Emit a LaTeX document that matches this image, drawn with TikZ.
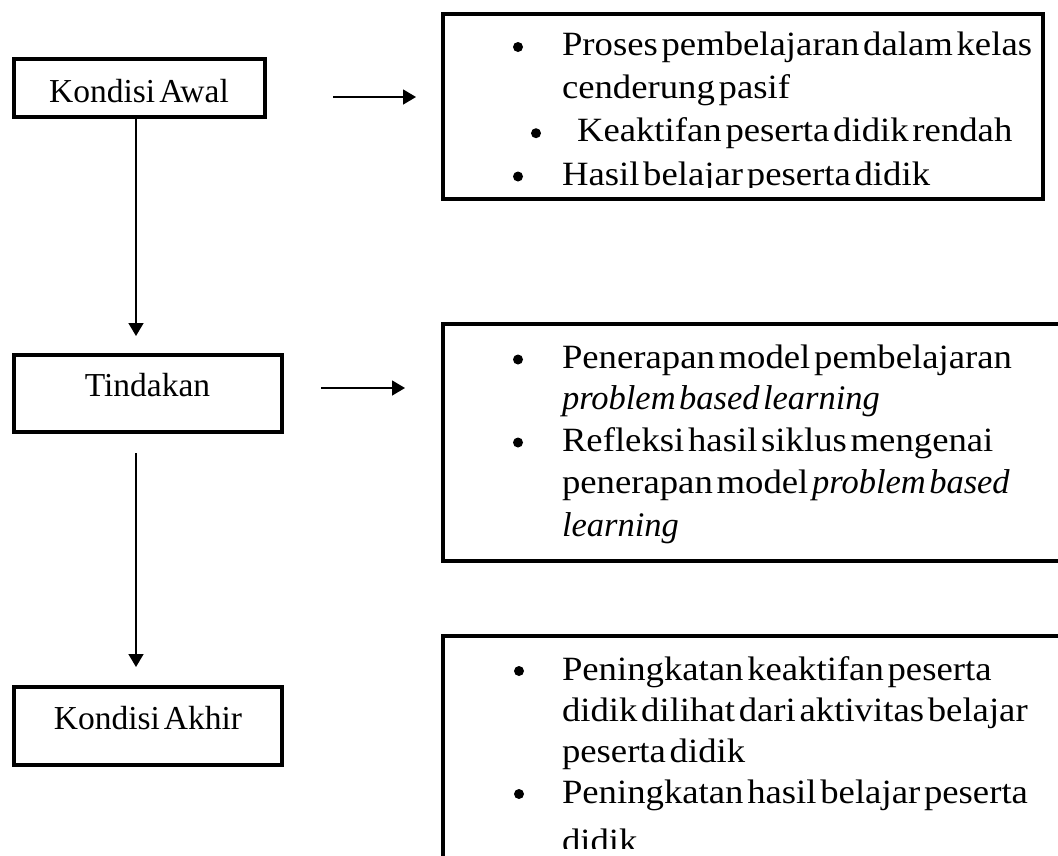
\documentclass[tikz,border=0pt]{standalone}
\usepackage{fontspec}
\setmainfont{Liberation Serif}
\newfontfamily\widefont{Liberation Serif}[FakeStretch=1.08]
\usetikzlibrary{arrows.meta}
\newcommand\leftfont{\fontsize{33.5}{40}\selectfont\spaceskip=0.12em\relax\xspaceskip=0.12em\relax}
\newcommand\rightfont{\widefont\fontsize{34}{40}\selectfont\spaceskip=0.11em\relax\xspaceskip=0.11em\relax}
\newcommand\emfont{\normalfont\fontsize{34.5}{40}\selectfont\itshape\spaceskip=0.1em\relax\xspaceskip=0.1em\relax}
\tikzset{
  frame/.style={draw, line width=4pt, rectangle, inner sep=0pt, outer sep=0pt},
  txt/.style={anchor=base west, inner sep=0pt, outer sep=0pt, font=\rightfont},
  ctxt/.style={anchor=base, inner sep=0pt, outer sep=0pt, font=\leftfont},
  bul/.style={circle, fill, draw=none, inner sep=0pt, outer sep=0pt, minimum size=10pt},
  arr/.style={-{Triangle[length=13pt,width=15pt]}, line width=1.5pt}
}
\begin{document}
\begin{tikzpicture}[x=1pt,y=-1pt]
\useasboundingbox (0,0) rectangle (1058,855);
\clip (0,0) rectangle (1058,855);
\fill[white] (0,0) rectangle (1058,855);

% left boxes
\node[frame, minimum width=251pt, minimum height=58pt] (awal) at (139.5,88) {};
\node[ctxt] (awaltxt) at (139,102) {Kondisi Awal};
\node[frame, minimum width=268pt, minimum height=77pt] (tind) at (148,393.5) {};
\node[ctxt] (tindtxt) at (147.5,396) {Tindakan};
\node[frame, minimum width=268pt, minimum height=78pt] (akhir) at (148,726) {};
\node[ctxt] (akhirtxt) at (148,729) {Kondisi Akhir};

% right boxes
\node[frame, minimum width=600pt, minimum height=185pt] (r1) at (743,106.5) {};
\node[frame, minimum width=627pt, minimum height=237pt] (r2) at (756.5,442.5) {};
\node[frame, minimum width=627pt, minimum height=238pt] (r3) at (756.5,755) {};

% connectors
\coordinate (v1e) at (136,336);
\coordinate (v2s) at (136,453);
\coordinate (v2e) at (136,667);
\coordinate (h1s) at (333,97);
\coordinate (h1e) at (416,97);
\coordinate (h2s) at (321,388);
\coordinate (h2e) at (405,388);
\draw[arr] ([xshift=-3.5pt]awal.south) -- (v1e);
\draw[arr] (v2s) -- (v2e);
\draw[arr] (h1s) -- (h1e);
\draw[arr] (h2s) -- (h2e);

% text of box 1
\begin{scope}
\clip (443,14) rectangle (1041,187);
\node[bul] (r1b1) at (518,47) {};
\node[txt] (r1l1) at (562,55) {Proses pembelajaran dalam kelas};
\node[txt] (r1l2) at (562,98.3) {cenderung pasif};
\node[bul] (r1b2) at (536,133.2) {};
\node[txt] (r1l3) at (577,141.7) {Keaktifan peserta didik rendah};
\node[bul] (r1b3) at (518,176.5) {};
\node[txt] (r1l4) at (562,185) {Hasil belajar peserta didik};
\end{scope}

% text of box 2
\node[bul] (r2b1) at (518,359.5) {};
\node[txt] (r2l1) at (562,368) {Penerapan model pembelajaran};
\node[txt] (r2l2) at (562,409.5) {\emfont problem based learning};
\node[bul] (r2b2) at (518,442.5) {};
\node[txt] (r2l3) at (562,451) {Refleksi hasil siklus mengenai};
\node[txt] (r2l4) at (562,493) {penerapan model {\emfont problem based}};
\node[txt] (r2l5) at (562,536) {\emfont learning};

% text of box 3
\begin{scope}
\clip (443,638) rectangle (1058,848);
\node[bul] (r3b1) at (519,671) {};
\node[txt] (r3l1) at (562,680) {Peningkatan keaktifan peserta};
\node[txt] (r3l2) at (562,721) {didik dilihat dari aktivitas belajar};
\node[txt] (r3l3) at (562,762) {peserta didik};
\node[bul] (r3b2) at (519,794) {};
\node[txt] (r3l4) at (562,803) {Peningkatan hasil belajar peserta};
\node[txt] (r3l5) at (562,852) {didik};
\end{scope}
\end{tikzpicture}
\end{document}
